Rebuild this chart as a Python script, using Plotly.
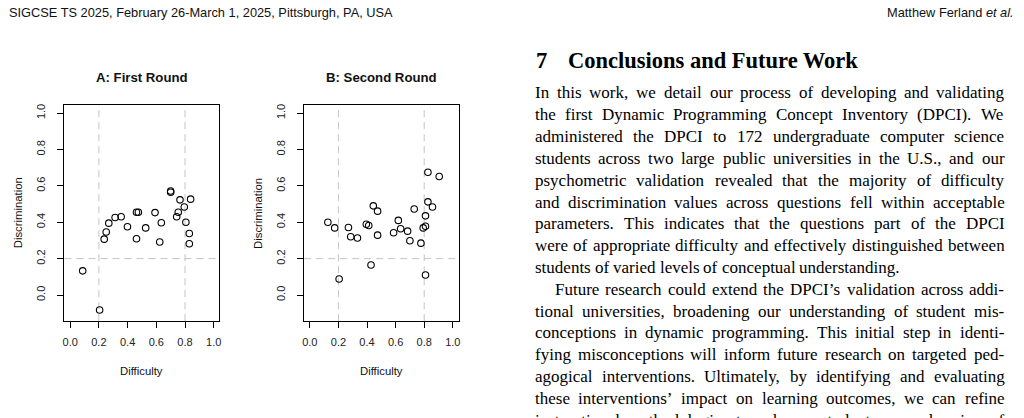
import plotly.graph_objects as go

# ---------------- data ----------------
diff_a = [0.087, 0.205, 0.237, 0.251, 0.269, 0.313, 0.355, 0.399, 0.462, 0.462, 0.475,
          0.526, 0.591, 0.624, 0.635, 0.700, 0.700, 0.742, 0.753, 0.765, 0.795, 0.806,
          0.830, 0.830, 0.839]
disc_a = [0.133, -0.082, 0.307, 0.346, 0.395, 0.426, 0.430, 0.375, 0.309, 0.455, 0.455,
          0.369, 0.453, 0.291, 0.397, 0.565, 0.572, 0.430, 0.455, 0.523, 0.484, 0.400,
          0.338, 0.282, 0.527]

diff_b = [0.126, 0.174, 0.205, 0.270, 0.286, 0.333, 0.395, 0.412, 0.428, 0.444, 0.474,
          0.474, 0.586, 0.619, 0.635, 0.684, 0.700, 0.730, 0.777, 0.793, 0.809, 0.809,
          0.809, 0.826, 0.826, 0.858, 0.905]
disc_b = [0.400, 0.369, 0.088, 0.371, 0.320, 0.313, 0.389, 0.382, 0.165, 0.490, 0.461,
          0.329, 0.342, 0.410, 0.364, 0.351, 0.298, 0.473, 0.285, 0.369, 0.378, 0.435,
          0.110, 0.512, 0.675, 0.484, 0.651]

tick_vals = [0.0, 0.2, 0.4, 0.6, 0.8, 1.0]
tick_text = ["0.0", "0.2", "0.4", "0.6", "0.8", "1.0"]
diff_cutoffs = [0.2, 0.8]
disc_cutoff = 0.2

titles = ["A: First Round", "B: Second Round"]

header_left = "SIGCSE TS 2025, February 26-March 1, 2025, Pittsburgh, PA, USA"
header_right = "Matthew Ferland <i>et al.</i>"
section_num = "7"
section_title = "Conclusions and Future Work"
body_lines = [
    ("In this work, we detail our process of developing and validating", False, True),
    ("the first Dynamic Programming Concept Inventory (DPCI). We", False, True),
    ("administered the DPCI to 172 undergraduate computer science", False, True),
    ("students across two large public universities in the U.S., and our", False, True),
    ("psychometric validation revealed that the majority of difficulty", False, True),
    ("and discrimination values across questions fell within acceptable", False, True),
    ("parameters. This indicates that the questions part of the DPCI", False, True),
    ("were of appropriate difficulty and effectively distinguished between", False, True),
    ("students of varied levels of conceptual understanding.", False, False),
    ("Future research could extend the DPCI\u2019s validation across addi-", True, True),
    ("tional universities, broadening our understanding of student mis-", False, True),
    ("conceptions in dynamic programming. This initial step in identi-", False, True),
    ("fying misconceptions will inform future research on targeted ped-", False, True),
    ("agogical interventions. Ultimately, by identifying and evaluating", False, True),
    ("these interventions\u2019 impact on learning outcomes, we can refine", False, True),
    ("instructional methodologies to enhance student comprehension of", False, True),
]

# ---------------- geometry (screen pixels) ----------------
W, H = 1024, 418
def px(x):
    return x / W
def py(y):
    return 1 - y / H

box_top, box_bot = 104.3, 321.0
boxes_x = [(62.7, 218.3), (303.3, 458.3)]

SANS = "Liberation Sans, Arial, sans-serif"
SERIF = "Liberation Serif, Times New Roman, serif"

fig = go.Figure()
for i, (dx, dy) in enumerate([(diff_a, disc_a), (diff_b, disc_b)]):
    sfx = "" if i == 0 else str(i + 1)
    fig.add_trace(go.Scatter(
        x=dx, y=dy, mode="markers", xaxis="x" + sfx, yaxis="y" + sfx,
        marker=dict(symbol="circle-open", size=6.5, color="black", line=dict(width=1.1)),
        hoverinfo="x+y", showlegend=False))

layout = dict(width=W, height=H, margin=dict(l=0, r=0, t=0, b=0),
              paper_bgcolor="white", plot_bgcolor="white", showlegend=False)
axis_common = dict(tickvals=tick_vals, ticktext=tick_text, ticks="outside", ticklen=6,
                   tickwidth=1, tickcolor="black", showline=True, mirror=True,
                   linecolor="black", linewidth=1, showgrid=False, zeroline=False,
                   tickfont=dict(family=SANS, size=11, color="#222"))
shapes = []
annotations = []
for i, (x0, x1) in enumerate(boxes_x):
    sfx = "" if i == 0 else str(i + 1)
    layout["xaxis" + sfx] = dict(domain=[px(x0), px(x1)], range=[-0.04, 1.04],
                                 anchor="y" + sfx, ticklabelstandoff=5, **axis_common)
    layout["yaxis" + sfx] = dict(domain=[py(box_bot), py(box_top)], range=[-0.144, 1.044],
                                 anchor="x" + sfx, tickangle=-90, ticklabelstandoff=8,
                                 **axis_common)
    for c in diff_cutoffs:
        shapes.append(dict(type="line", xref="x" + sfx, yref="y" + sfx + " domain",
                           x0=c, x1=c, y0=0, y1=1, layer="below",
                           line=dict(color="#c4c4c4", width=1, dash="7px,5px")))
    shapes.append(dict(type="line", xref="x" + sfx + " domain", yref="y" + sfx,
                       x0=0, x1=1, y0=disc_cutoff, y1=disc_cutoff, layer="below",
                       line=dict(color="#c4c4c4", width=1, dash="7px,5px")))
    cx = (x0 + x1) / 2
    annotations.append(dict(text="<b>" + titles[i] + "</b>", x=px(cx), y=py(77),
                            xref="paper", yref="paper", showarrow=False,
                            xanchor="center", yanchor="middle",
                            font=dict(family=SANS, size=13.2, color="#111")))
    annotations.append(dict(text="Difficulty", x=px(cx), y=py(370.5),
                            xref="paper", yref="paper", showarrow=False,
                            xanchor="center", yanchor="middle",
                            font=dict(family=SANS, size=11.3, color="#111")))
    annotations.append(dict(text="Discrimination", x=px(x0 - 46.5), y=py(212.6),
                            xref="paper", yref="paper", showarrow=False, textangle=-90,
                            xanchor="center", yanchor="middle",
                            font=dict(family=SANS, size=11.3, color="#111")))

# header
HF = 12.8
annotations.append(dict(text=header_left, x=px(7), y=py(16.5 - 0.35 * HF), xref="paper",
                        yref="paper", showarrow=False, xanchor="left", yanchor="middle",
                        borderpad=0, borderwidth=0,
                        font=dict(family=SANS, size=HF, color="#111")))
annotations.append(dict(text=header_right, x=px(1016), y=py(16.5 - 0.35 * HF), xref="paper",
                        yref="paper", showarrow=False, xanchor="right", yanchor="middle",
                        borderpad=0, borderwidth=0,
                        font=dict(family=SANS, size=HF, color="#111")))

# section heading
HS = 22.5
annotations.append(dict(text="<b>" + section_num + "</b>", x=px(534), y=py(67.3 - 0.34 * HS),
                        xref="paper", yref="paper", showarrow=False, xanchor="left",
                        yanchor="middle", font=dict(family=SERIF, size=HS, color="black")))
annotations.append(dict(text="<b>" + section_title + "</b>", x=px(566), y=py(67.3 - 0.34 * HS),
                        xref="paper", yref="paper", showarrow=False, xanchor="left",
                        yanchor="middle", font=dict(family=SERIF, size=HS, color="black")))

# body text, justified word by word using Times metrics
TW = {' ': 250, '!': 333, '(': 333, ')': 333, ',': 250, '-': 333, '.': 250, ':': 278,
      '\u2019': 333, "'": 180}
for ch, w in zip("0123456789", [500] * 10):
    TW[ch] = w
for ch, w in zip("ABCDEFGHIJKLMNOPQRSTUVWXYZ",
                 [722, 667, 667, 722, 611, 556, 722, 722, 333, 389, 722, 611, 889, 722, 722,
                  556, 722, 667, 556, 611, 722, 722, 944, 722, 722, 611]):
    TW[ch] = w
for ch, w in zip("abcdefghijklmnopqrstuvwxyz",
                 [444, 500, 444, 500, 444, 333, 500, 500, 278, 278, 500, 278, 778, 500, 500,
                  500, 500, 333, 389, 278, 500, 500, 722, 500, 500, 444]):
    TW[ch] = w

def tw(s, fs):
    return sum(TW.get(c, 500) for c in s) / 1000 * fs

BS = 17.0
left, right = 535.0, 1006.0
for k, (line, indent, justify) in enumerate(body_lines):
    base = 98 + 21.86 * k
    yc = py(base - 0.34 * BS)
    x_start = left + (20 if indent else 0)
    words = line.split(" ")
    widths = [tw(w, BS) for w in words]
    if justify and len(words) > 1:
        gap = (right - x_start - sum(widths)) / (len(words) - 1)
    else:
        gap = tw(" ", BS)
    x = x_start
    for w, wd in zip(words, widths):
        annotations.append(dict(text=w, x=px(x - 2), y=yc, xref="paper", yref="paper",
                                showarrow=False, xanchor="left", yanchor="middle",
                                font=dict(family=SERIF, size=BS, color="black")))
        x += wd + gap

layout["shapes"] = shapes
layout["annotations"] = annotations
fig.update_layout(**layout)
# remove the browser's default 8px page margin so the figure sits at the window's corner
fig.write_html("out.html", config={"displayModeBar": False},
               post_script="document.body.style.margin='0px';")
